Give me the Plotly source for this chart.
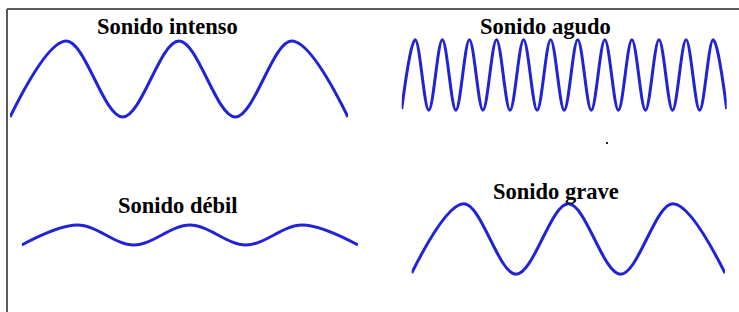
import plotly.graph_objects as go

W, H = 739, 312

# Extremes of each wave: time in periods, amplitude (1 unit = 40 px)
intenso_t = [0, 0.5, 1, 1.5, 2, 2.5, 3]
intenso_y = [-0.95, 0.95, -0.95, 0.95, -0.95, 0.95, -0.95]

agudo_t = [0, 0.5, 1, 1.5, 2, 2.5, 3, 3.5, 4, 4.5, 5, 5.5, 6,
           6.5, 7, 7.5, 8, 8.5, 9, 9.5, 10, 10.5, 11, 11.5, 12]
agudo_y = [-0.85, 0.88, -0.88, 0.88, -0.88, 0.88, -0.88, 0.88, -0.88, 0.88, -0.88, 0.88, -0.88,
           0.88, -0.88, 0.88, -0.88, 0.88, -0.88, 0.88, -0.88, 0.88, -0.88, 0.88, -0.85]

debil_t = [0, 0.5, 1, 1.5, 2, 2.5, 3]
debil_y = [-0.25, 0.25, -0.25, 0.25, -0.25, 0.25, -0.25]

grave_t = [0, 0.5, 1, 1.5, 2, 2.5, 3]
grave_y = [-0.85, 0.88, -0.88, 0.88, -0.88, 0.88, -0.85]

titles = ["Sonido intenso", "Sonido agudo", "Sonido débil", "Sonido grave"]

LINE = "#2323d6"

# panel placement in pixels: (x0, x1, y_center)
panels = [
    (intenso_t, intenso_y, 10, 348, 79),
    (agudo_t, agudo_y, 401.7, 726.7, 75),
    (debil_t, debil_y, 21.7, 358, 235),
    (grave_t, grave_y, 411.7, 725, 239),
]
title_pos = [(167, 26), (545, 26), (177.5, 205), (556, 191)]

fig = go.Figure()
layout = dict(
    width=W, height=H,
    margin=dict(l=0, r=0, t=0, b=0),
    paper_bgcolor="white", plot_bgcolor="rgba(0,0,0,0)",
    showlegend=False,
)
for i, (t, y, x0, x1, yc) in enumerate(panels):
    k = "" if i == 0 else str(i + 1)
    fig.add_trace(go.Scatter(
        x=t, y=y, mode="lines", xaxis="x" + k, yaxis="y" + k,
        line=dict(color=LINE, width=3, shape="spline", smoothing=1.0),
        hoverinfo="skip",
    ))
    layout["xaxis" + k] = dict(domain=[x0 / W, x1 / W], range=[t[0], t[-1]],
                               visible=False, fixedrange=True, anchor="y" + k)
    layout["yaxis" + k] = dict(domain=[1 - (yc + 50) / H, 1 - (yc - 50) / H],
                               range=[-1.25, 1.25], visible=False, fixedrange=True,
                               anchor="x" + k)

fig.update_layout(**layout)

for txt, (px, py) in zip(titles, title_pos):
    fig.add_annotation(
        text="<b>" + txt + "</b>", x=px / W, y=1 - py / H, xref="paper", yref="paper",
        xanchor="center", yanchor="middle", showarrow=False,
        font=dict(family="Liberation Serif", size=22.5, color="black"),
    )

# frame lines (top and left) and the small stray dot
fig.add_shape(type="line", xref="paper", yref="paper",
              x0=7 / W, x1=1, y0=1 - 9 / H, y1=1 - 9 / H,
              line=dict(color="#5a5a5a", width=2))
fig.add_shape(type="line", xref="paper", yref="paper",
              x0=7 / W, x1=7 / W, y0=1 - 9 / H, y1=0,
              line=dict(color="#5a5a5a", width=2))
fig.add_shape(type="rect", xref="paper", yref="paper",
              x0=606 / W, x1=608 / W, y0=1 - 144 / H, y1=1 - 142 / H,
              line=dict(width=0), fillcolor="#222222")

fig.write_html("out.html", config={"displayModeBar": False},
               post_script="document.body.style.margin='0';document.body.style.overflow='hidden';")
